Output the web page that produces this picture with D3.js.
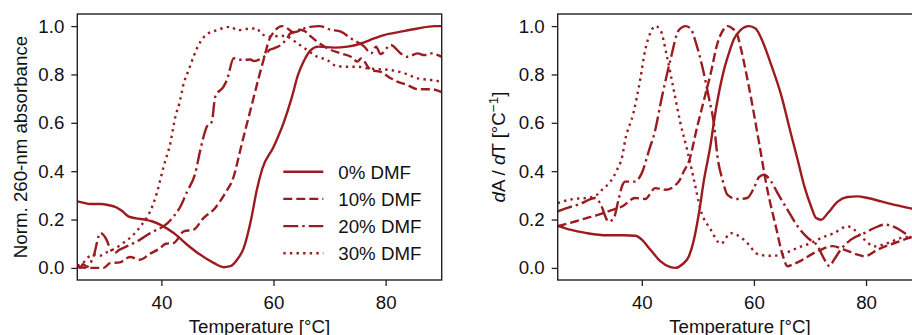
<!DOCTYPE html>
<html>
<head>
<meta charset="utf-8">
<script src="https://cdn.jsdelivr.net/npm/d3@7"></script>
<style>
  html, body { margin: 0; padding: 0; background: #fff; }
  svg { display: block; }
  text { font-family: "Liberation Sans", Arial, Helvetica, sans-serif; fill: #111; }
</style>
</head>
<body>
<svg id="chart" width="912" height="335"></svg>
<script>
// ---- data: [temperature °C, normalised value] ----
const seriesLabels = ["0% DMF", "10% DMF", "20% DMF", "30% DMF"];
const xTicks = [40, 60, 80];
const yTicks = [0.0, 0.2, 0.4, 0.6, 0.8, 1.0];

// normalised 260-nm absorbance
const abs0 = [[25,0.275],[26,0.27],[27.3,0.264],[29.1,0.264],[30.5,0.26],[32,0.25],[33,0.235],[34.1,0.213],[35.5,0.205],[37,0.2],[38.3,0.193],[40.1,0.175],[42.2,0.144],[44.6,0.096],[46.9,0.055],[49.3,0.021],[51.1,0.003],[52.3,0.007],[53.5,0.034],[54.7,0.083],[56,0.2],[57,0.32],[58,0.41],[60,0.5],[61.8,0.6],[63.2,0.7],[64.4,0.8],[65.5,0.86],[66.6,0.9],[68,0.915],[70.8,0.911],[73.2,0.915],[75.6,0.928],[77.95,0.949],[79.7,0.963],[82.7,0.977],[85.7,0.99],[88.7,1.0],[90,1.0]];
const abs10 = [[25,0.005],[27,0.0],[29.7,0.0],[30.85,0.02],[32.6,0.023],[34.4,0.045],[36.2,0.034],[38,0.059],[39.8,0.082],[40.8,0.1],[42.2,0.103],[44,0.151],[45.75,0.158],[47.5,0.206],[49.6,0.248],[51.4,0.31],[52.9,0.378],[54.1,0.49],[55.3,0.6],[56.2,0.681],[57.4,0.79],[58.3,0.867],[59.2,0.942],[60.1,0.977],[61.5,1.0],[62.5,0.99],[63.5,0.975],[64.5,0.985],[65.5,0.98],[66.5,0.96],[67.8,0.935],[69.6,0.908],[72,0.887],[73.8,0.873],[75,0.853],[75.6,0.866],[77.4,0.818],[79.1,0.811],[80.9,0.784],[82.1,0.77],[83.9,0.756],[85.7,0.739],[88.1,0.739],[90,0.727]];
const abs20 = [[25,0.01],[25.5,0.0],[26,0.015],[26.7,0.005],[27.9,0.048],[29.1,0.144],[30.2,0.117],[30.8,0.083],[31.7,0.062],[32.5,0.075],[33.8,0.089],[36.2,0.117],[38,0.144],[39.2,0.158],[40.4,0.172],[42.2,0.213],[43.4,0.254],[44.6,0.316],[46.05,0.392],[46.95,0.488],[48.1,0.584],[49,0.605],[49.6,0.708],[51.1,0.75],[51.7,0.777],[52.9,0.867],[54.4,0.86],[55.9,0.862],[56.5,0.855],[57.7,0.865],[58.6,0.88],[59.2,0.9],[60.1,0.908],[61.3,0.922],[62.4,0.949],[63,0.97],[64.2,0.977],[65.4,0.99],[66.6,0.997],[68.2,1.0],[70.2,0.985],[72,0.977],[73.8,0.949],[76.2,0.915],[77.4,0.887],[78.3,0.915],[79.1,0.884],[80.9,0.922],[82.7,0.887],[83.9,0.873],[85.7,0.887],[86.9,0.88],[88.1,0.887],[90,0.873]];
const abs30 = [[25,0.01],[26,0.02],[27,0.045],[28,0.055],[29,0.05],[30,0.062],[31.4,0.076],[33.2,0.103],[35,0.137],[36.5,0.179],[37.7,0.22],[38.6,0.268],[39.2,0.31],[39.8,0.364],[40.4,0.419],[41.6,0.516],[42.5,0.626],[43.2,0.68],[44,0.764],[44.9,0.82],[45.75,0.875],[46.95,0.935],[48.1,0.966],[49.9,0.983],[52.3,0.997],[53.6,0.983],[55.9,0.99],[57.1,0.99],[57.7,0.97],[59.5,0.956],[61.3,0.96],[62.5,0.956],[64.25,0.929],[66,0.901],[67.8,0.873],[69.6,0.86],[70.8,0.839],[72.6,0.832],[75,0.832],[76.8,0.825],[78.6,0.822],[80.9,0.818],[83.3,0.805],[85.7,0.784],[88.1,0.777],[90,0.77]];

// first derivative dA/dT (normalised)
const der0 = [[25,0.175],[27.2,0.158],[30.2,0.144],[33.8,0.135],[36.8,0.135],[38.85,0.133],[40,0.117],[41.5,0.076],[43.3,0.028],[45.1,0.003],[46,0.0],[47.2,0.014],[48.4,0.048],[49.3,0.117],[50.2,0.227],[51.1,0.365],[52.2,0.5],[53.2,0.653],[54.65,0.818],[55.5,0.885],[56.4,0.945],[57.6,0.983],[59.1,1.0],[60.3,0.99],[61.2,0.955],[63,0.845],[64.8,0.72],[66.6,0.555],[67.8,0.447],[69,0.337],[70.2,0.254],[71.1,0.206],[72,0.199],[73.2,0.227],[75,0.275],[76.7,0.293],[78.5,0.296],[80.3,0.289],[82.7,0.275],[85.1,0.261],[87.5,0.248],[90,0.238]];
const der10 = [[25,0.172],[28.1,0.192],[30,0.205],[32.3,0.22],[34.5,0.238],[36.5,0.254],[38.8,0.289],[40.6,0.285],[42.4,0.33],[44.2,0.323],[46.6,0.357],[47.5,0.4],[48.4,0.44],[49.9,0.585],[51.1,0.695],[52.3,0.805],[53.5,0.929],[54.3,0.975],[55.3,1.0],[56.2,0.99],[57.1,0.96],[57.6,0.915],[59.1,0.75],[60.9,0.52],[62.4,0.323],[63.9,0.172],[65.1,0.055],[66,0.007],[66.9,0.014],[68.4,0.03],[70.2,0.055],[72,0.076],[74,0.09],[76.1,0.076],[78.5,0.055],[79.7,0.048],[82.1,0.076],[85.1,0.103],[88.5,0.13],[90,0.14]];
const der20 = [[25,0.234],[27,0.25],[29,0.265],[31.7,0.289],[32.5,0.27],[34.1,0.192],[35,0.206],[35.85,0.282],[36.5,0.34],[37.05,0.357],[38.8,0.357],[40,0.392],[41.5,0.502],[42.1,0.543],[43.6,0.708],[45.1,0.86],[46.6,0.983],[47.8,1.0],[48.7,0.99],[49.6,0.935],[50.8,0.832],[52,0.7],[52.9,0.59],[53.5,0.46],[54.4,0.364],[55.3,0.302],[57,0.285],[58.8,0.289],[60,0.33],[60.9,0.375],[61.8,0.385],[63,0.36],[64.2,0.31],[66,0.24],[67.8,0.172],[69.6,0.124],[71.4,0.089],[72.6,0.034],[73.5,0.007],[74.3,0.034],[75.5,0.076],[77.3,0.117],[79.7,0.144],[81.5,0.165],[83.3,0.179],[85.1,0.169],[86.9,0.144],[88.5,0.117],[90,0.1]];
const der30 = [[25,0.268],[27.8,0.285],[30.5,0.29],[32,0.302],[32.9,0.323],[34.4,0.357],[35.6,0.406],[36.5,0.46],[37.05,0.53],[38.5,0.64],[39.7,0.777],[40.6,0.9],[41.6,0.975],[42.4,1.0],[43.3,0.985],[44.5,0.873],[45.7,0.736],[46.9,0.598],[48.1,0.488],[49.3,0.365],[50.5,0.24],[52.3,0.158],[54.1,0.1],[55.85,0.144],[58.2,0.117],[60.9,0.055],[63,0.05],[65,0.055],[66.5,0.07],[68,0.085],[70.2,0.103],[72,0.124],[74.3,0.144],[76.7,0.172],[77.9,0.158],[79.7,0.117],[81.5,0.089],[83.9,0.103],[86.3,0.124],[88.5,0.13],[90,0.135]];

// ---- styling ----
const lineColor = "#9b1c20";
const lw = 2.4;
const fontSize = 18.7;
const dashes = [null, "9,4", "15,4,2.4,4", "2.4,4.2"];

const svg = d3.select("#chart");
const plotTop = 14, plotBottom = 280;
const panelW = 364.4;

const y = d3.scaleLinear().domain([-0.05, 1.05]).range([plotBottom, plotTop]);

function drawPanel(left, series, yLabelFn, id, withLegend) {
  const x = d3.scaleLinear().domain([25, 90]).range([left, left + panelW]);
  const g = svg.append("g");

  g.append("clipPath").attr("id", id)
    .append("rect").attr("x", left).attr("y", plotTop).attr("width", panelW).attr("height", plotBottom - plotTop);

  const line = d3.line().x(d => x(d[0])).y(d => y(d[1])).curve(d3.curveMonotoneX);
  const plot = g.append("g").attr("clip-path", `url(#${id})`);
  series.forEach((s, i) => {
    plot.append("path")
      .attr("d", line(s))
      .attr("fill", "none")
      .attr("stroke", lineColor)
      .attr("stroke-width", lw)
      .attr("stroke-linejoin", "round")
      .attr("stroke-dasharray", dashes[i]);
  });

  // axes
  const xAxis = g.append("g").attr("transform", `translate(0,${plotBottom})`)
    .call(d3.axisBottom(x).tickValues(xTicks).tickSize(6).tickPadding(10).tickFormat(d3.format("d")));
  const yAxis = g.append("g").attr("transform", `translate(${left},0)`)
    .call(d3.axisLeft(y).tickValues(yTicks).tickSize(6).tickPadding(7).tickFormat(d3.format(".1f")));
  [xAxis, yAxis].forEach(a => {
    a.select(".domain").remove();
    a.selectAll(".tick line").attr("stroke", "#222").attr("stroke-width", 1.3);
    a.selectAll(".tick text").attr("font-size", fontSize).attr("fill", "#111")
      .attr("font-family", "Liberation Sans, Arial, sans-serif");
  });

  // frame
  g.append("rect").attr("x", left).attr("y", plotTop).attr("width", panelW).attr("height", plotBottom - plotTop)
    .attr("fill", "none").attr("stroke", "#222").attr("stroke-width", 1.4);

  // x label
  g.append("text").attr("x", left + panelW / 2).attr("y", 333)
    .attr("text-anchor", "middle").attr("font-size", fontSize).text("Temperature [°C]");

  yLabelFn(g);

  if (withLegend) {
    const lg = g.append("g");
    seriesLabels.forEach((lab, i) => {
      const yy = 171.7 + i * 27.2;
      lg.append("line").attr("x1", 283.3).attr("x2", 323.3).attr("y1", yy).attr("y2", yy)
        .attr("stroke", lineColor).attr("stroke-width", lw).attr("stroke-dasharray", dashes[i]);
      lg.append("text").attr("x", 338.3).attr("y", yy + 6.8).attr("font-size", fontSize).text(lab);
    });
  }
}

drawPanel(77.3, [abs0, abs10, abs20, abs30], g => {
  g.append("text").attr("transform", "translate(27,147) rotate(-90)")
    .attr("text-anchor", "middle").attr("font-size", fontSize).text("Norm. 260-nm absorbance");
}, "clipL", true);

drawPanel(557.7, [der0, der10, der20, der30], g => {
  const t = g.append("text").attr("transform", "translate(505,147) rotate(-90)")
    .attr("text-anchor", "middle").attr("font-size", fontSize);
  t.append("tspan").attr("font-style", "italic").text("d");
  t.append("tspan").text("A / ");
  t.append("tspan").attr("font-style", "italic").text("d");
  t.append("tspan").text("T [°C");
  t.append("tspan").attr("font-size", 13.5).attr("dy", -7.5).text("−1");
  t.append("tspan").attr("dy", 7.5).text("]");
}, "clipR", false);
</script>
</body>
</html>
